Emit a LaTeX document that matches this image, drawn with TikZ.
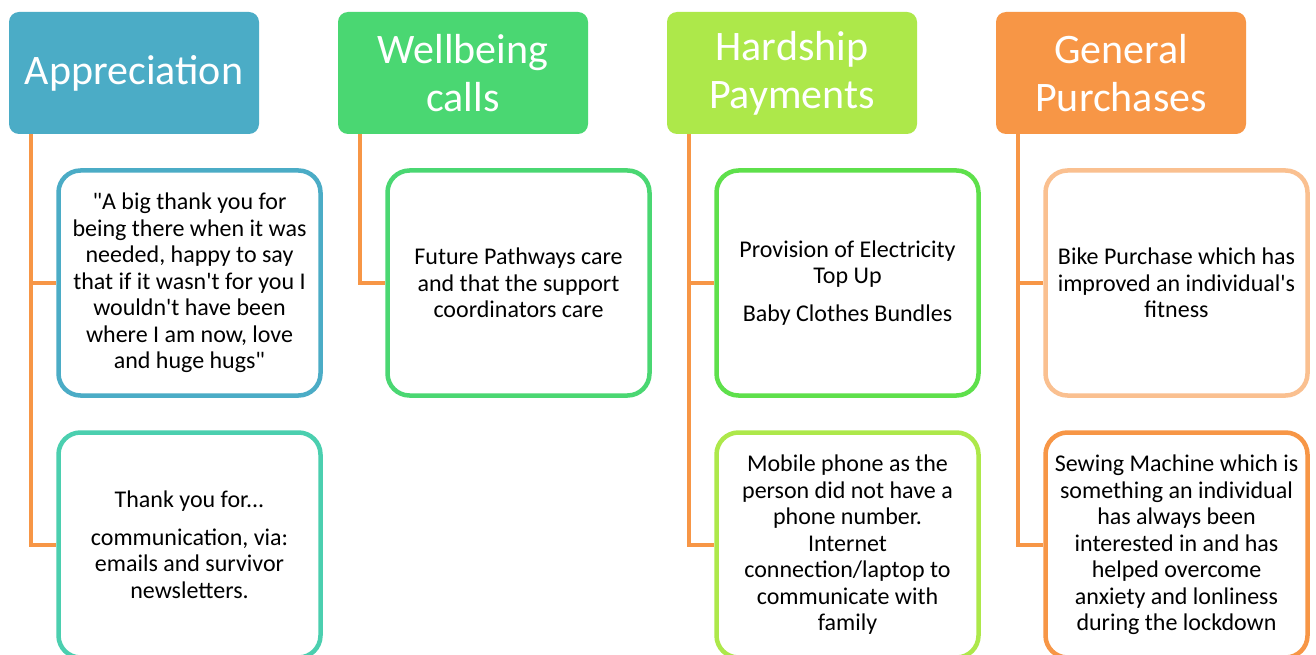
\documentclass[tikz,border=0pt]{standalone}
\usepackage{fontspec}
\setmainfont{Carlito}[Ligatures=TeXOff]
\usepackage{tikz}
\usepackage{xcolor}
\definecolor{app-blue}{HTML}{4BACC6}
\definecolor{app-teal}{HTML}{4BCFAF}
\definecolor{well-green}{HTML}{4AD772}
\definecolor{hard-green}{HTML}{5EE04B}
\definecolor{hard-lime}{HTML}{ADE84A}
\definecolor{gen-orange}{HTML}{F79646}
\definecolor{gen-peach}{HTML}{FAC090}
\tikzset{
    head-box/.style = {fill=#1, rectangle, rounded corners=10pt, minimum width=250pt, minimum height=122pt, inner sep=0pt, text=white, align=center, font=\fontsize{42}{48}\selectfont},
    item-box/.style = {draw=#1, fill=white, line width=4.5pt, rectangle, rounded corners=22pt, minimum width=262pt, minimum height=225pt, inner sep=0pt, align=center, font=\fontsize{24}{26.5}\selectfont},
    link/.style = {draw=gen-orange, line width=4pt},
}
\begin{document}
\begin{tikzpicture}[x=1pt, y=-1pt]
\clip (0,0) rectangle (1316,655);
\fill[white] (0,0) rectangle (1316,655);

% headers
\node [head-box=app-blue] (app) at (134,73) {Appreciation};
\node [head-box=well-green] (well) at (463,73) {Wellbeing\\calls};
\node [head-box=hard-lime] (hard) at (792,73) {Hardship\\Payments};
\node [head-box=gen-orange] (gen) at (1121,73) {General\\Purchases};

% items
\node [item-box=app-blue] (app-1) at (189.5,283) {"A big thank you for\\being there when it was\\needed, happy to say\\that if it wasn't for you I\\wouldn't have been\\where I am now, love\\and huge hugs"};
\node [item-box=app-teal] (app-2) at (189.5,545) {Thank you for...\\[11pt]communication, via:\\emails and survivor\\newsletters.};
\node [item-box=well-green] (well-1) at (518.5,283) {Future Pathways care\\and that the support\\coordinators care};
\node [item-box=hard-green] (hard-1) at (847.5,283) {Provision of Electricity\\Top Up\\[11pt]Baby Clothes Bundles};
\node [item-box=hard-lime] (hard-2) at (847.5,545) {Mobile phone as the\\person did not have a\\phone number.\\Internet\\connection/laptop to\\communicate with\\family};
\node [item-box=gen-peach] (gen-1) at (1176.5,283) {Bike Purchase which has\\improved an individual's\\fitness};
\node [item-box=gen-orange] (gen-2) at (1176.5,545) {Sewing Machine which is\\something an individual\\has always been\\interested in and has\\helped overcome\\anxiety and lonliness\\during the lockdown};

% connectors
\coordinate (app-trunk) at ([xshift=22pt]app.south west);
\coordinate (well-trunk) at ([xshift=22pt]well.south west);
\coordinate (hard-trunk) at ([xshift=22pt]hard.south west);
\coordinate (gen-trunk) at ([xshift=22pt]gen.south west);
\draw [link] (app-trunk) |- (app-2.west);
\draw [link] (app-trunk |- app-1.west) -- (app-1.west);
\draw [link] (well-trunk) |- (well-1.west);
\draw [link] (hard-trunk) |- (hard-2.west);
\draw [link] (hard-trunk |- hard-1.west) -- (hard-1.west);
\draw [link] (gen-trunk) |- (gen-2.west);
\draw [link] (gen-trunk |- gen-1.west) -- (gen-1.west);
\end{tikzpicture}
\end{document}
